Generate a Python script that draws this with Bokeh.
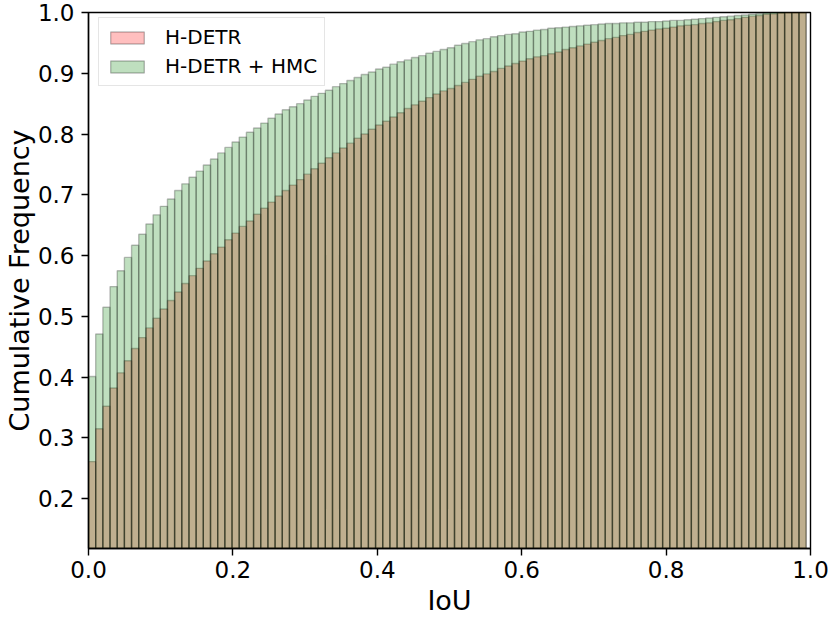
from bokeh.plotting import figure
from bokeh.models import PrintfTickFormatter, FixedTicker, Range1d, Legend, LegendItem, ColumnDataSource
from bokeh.embed import file_html
from bokeh.resources import INLINE

# --- data (cumulative frequency per IoU bin) ---
n_bins = 100
iou_min = 0.0
iou_max = 0.994

h_detr = [
    0.261, 0.315, 0.352, 0.382, 0.407, 0.427, 0.447, 0.465, 0.481, 0.497,
    0.512, 0.526, 0.540, 0.554, 0.567, 0.579, 0.591, 0.603, 0.614, 0.626,
    0.637, 0.648, 0.657, 0.668, 0.678, 0.688, 0.698, 0.707, 0.716, 0.725,
    0.734, 0.743, 0.752, 0.761, 0.769, 0.777, 0.785, 0.793, 0.800, 0.808,
    0.815, 0.821, 0.828, 0.835, 0.842, 0.848, 0.854, 0.860, 0.866, 0.871,
    0.875, 0.880, 0.885, 0.890, 0.895, 0.899, 0.903, 0.908, 0.912, 0.916,
    0.920, 0.924, 0.927, 0.929, 0.932, 0.935, 0.939, 0.942, 0.945, 0.948,
    0.951, 0.954, 0.957, 0.959, 0.962, 0.964, 0.967, 0.969, 0.971, 0.973,
    0.974, 0.976, 0.978, 0.979, 0.980, 0.982, 0.983, 0.985, 0.987, 0.988,
    0.990, 0.992, 0.994, 0.995, 0.997, 0.998, 0.999, 1.000, 1.000, 1.000,
]

h_detr_hmc = [
    0.401, 0.471, 0.515, 0.549, 0.575, 0.597, 0.617, 0.635, 0.652, 0.667,
    0.681, 0.693, 0.707, 0.718, 0.729, 0.739, 0.749, 0.759, 0.769, 0.778,
    0.787, 0.795, 0.803, 0.810, 0.818, 0.826, 0.833, 0.840, 0.845, 0.850,
    0.856, 0.862, 0.867, 0.872, 0.878, 0.883, 0.888, 0.893, 0.898, 0.902,
    0.907, 0.910, 0.915, 0.919, 0.922, 0.926, 0.929, 0.933, 0.936, 0.939,
    0.942, 0.946, 0.949, 0.952, 0.955, 0.957, 0.960, 0.962, 0.964, 0.965,
    0.968, 0.969, 0.971, 0.972, 0.974, 0.975, 0.976, 0.977, 0.978, 0.979,
    0.980, 0.981, 0.982, 0.982, 0.983, 0.983, 0.984, 0.984, 0.985, 0.985,
    0.986, 0.987, 0.987, 0.988, 0.989, 0.990, 0.991, 0.992, 0.993, 0.994,
    0.995, 0.996, 0.997, 0.998, 0.999, 1.000, 1.000, 1.000, 1.000, 1.000,
]

series_labels = ["H-DETR", "H-DETR + HMC"]
x_ticks = [0.0, 0.2, 0.4, 0.6, 0.8, 1.0]
y_ticks = [0.2, 0.3, 0.4, 0.5, 0.6, 0.7, 0.8, 0.9, 1.0]

bin_w = (iou_max - iou_min) / n_bins
centers = [iou_min + (i + 0.5) * bin_w for i in range(n_bins)]

FONT = "DejaVu Sans"

p = figure(
    width=831, height=622,
    x_range=Range1d(0.0, 1.0), y_range=Range1d(0.118, 1.0),
    output_backend="svg", toolbar_location=None,
    min_border_left=88, min_border_top=12, min_border_right=21, min_border_bottom=74,
)
p.background_fill_color = "white"
p.border_fill_color = "white"
p.outline_line_color = "black"
p.outline_line_width = 1.4
p.xgrid.visible = False
p.ygrid.visible = False

src_r = ColumnDataSource(dict(x=centers, top=h_detr))
src_g = ColumnDataSource(dict(x=centers, top=h_detr_hmc))

r1 = p.vbar(x="x", top="top", bottom=0, width=bin_w, source=src_r,
            fill_color="red", fill_alpha=0.25,
            line_color="black", line_alpha=0.25, line_width=1.4)
r2 = p.vbar(x="x", top="top", bottom=0, width=bin_w, source=src_g,
            fill_color="green", fill_alpha=0.25,
            line_color="black", line_alpha=0.25, line_width=1.4)

for ax in (p.xaxis[0], p.yaxis[0]):
    ax.major_tick_out = 7
    ax.major_tick_in = 0
    ax.major_tick_line_width = 1.4
    ax.minor_tick_line_color = None
    ax.axis_line_width = 1.4
    ax.major_label_text_font = FONT
    ax.major_label_text_font_size = "23px"
    ax.major_label_text_color = "black"
    ax.axis_label_text_font = FONT
    ax.axis_label_text_font_style = "normal"
    ax.axis_label_text_font_size = "27px"
    ax.axis_label_text_color = "black"
    ax.formatter = PrintfTickFormatter(format="%.1f")

p.xaxis.ticker = FixedTicker(ticks=x_ticks)
p.yaxis.ticker = FixedTicker(ticks=y_ticks)
p.xaxis.axis_label = "IoU"
p.yaxis.axis_label = "Cumulative Frequency"
p.xaxis.major_label_standoff = 5
p.xaxis.axis_label_standoff = 4
p.yaxis.major_label_standoff = 7
p.yaxis.axis_label_standoff = 0

legend = Legend(items=[LegendItem(label=series_labels[0], renderers=[r1]),
                       LegendItem(label=series_labels[1], renderers=[r2])],
                location=(10, 462))
legend.margin = 0
legend.padding = 7
legend.spacing = 5
legend.glyph_width = 42
legend.glyph_height = 15
legend.label_standoff = 17
legend.label_height = 20
legend.label_text_font = FONT
legend.label_text_font_size = "20px"
legend.label_text_color = "black"
legend.border_line_color = "#cccccc"
legend.border_line_width = 1.4
legend.background_fill_color = "white"
legend.background_fill_alpha = 0.8
p.add_layout(legend, "center")

open("out.html", "w").write(file_html(p, INLINE))
